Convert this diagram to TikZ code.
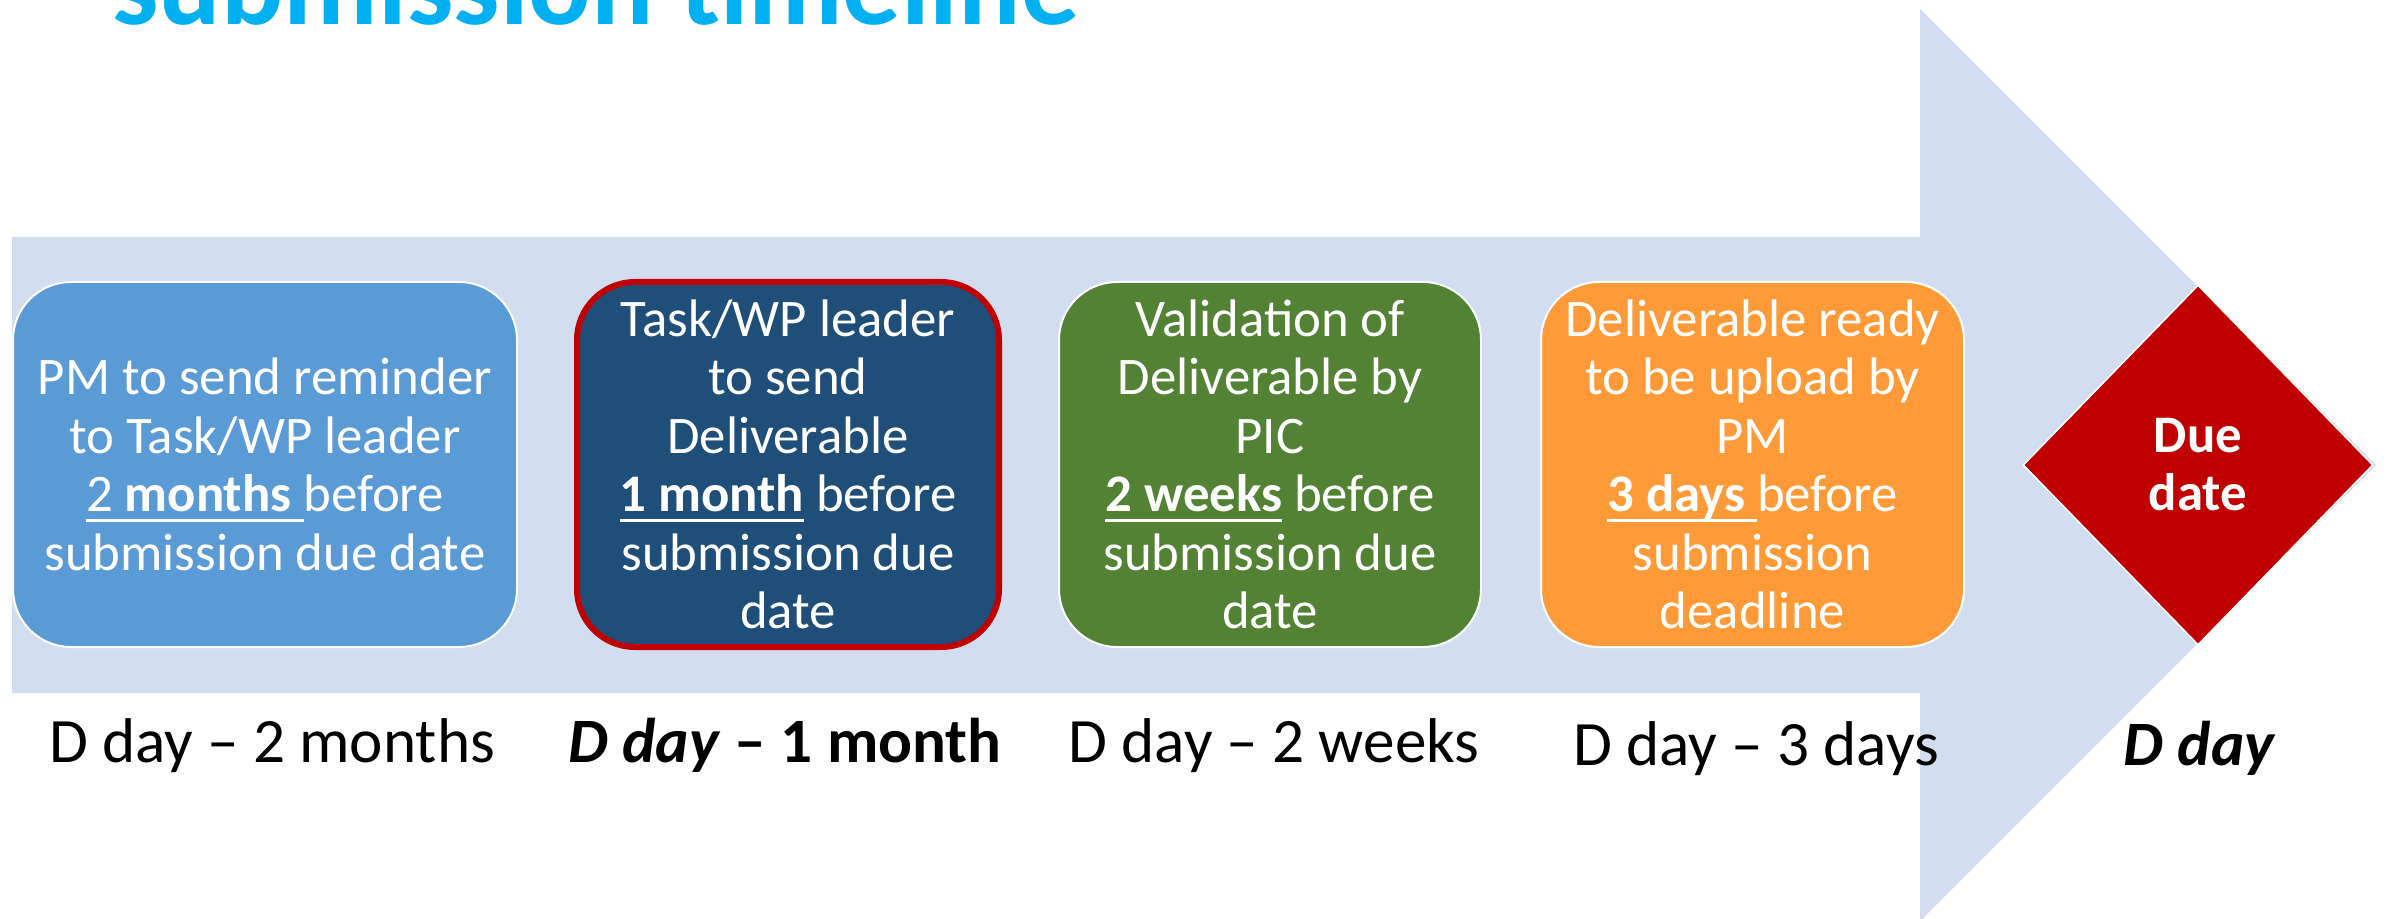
\documentclass[tikz,border=0pt]{standalone}
\usepackage{fontspec}
\setmainfont{Carlito}
\usetikzlibrary{shapes.geometric}
\definecolor{arrowbg}{HTML}{D2DEEF}
\definecolor{boxA}{HTML}{5B9BD5}
\definecolor{boxB}{HTML}{1F4E79}
\definecolor{boxC}{HTML}{548235}
\definecolor{boxD}{HTML}{FF9A38}
\definecolor{duered}{HTML}{C00000}
\definecolor{titlecyan}{HTML}{00B0F0}
\newcommand\ulbox[1]{\setbox0\hbox{#1}\rlap{\rule[-5.2pt]{\wd0}{1.8pt}}\box0}
\tikzset{
  stage/.style={rectangle, rounded corners=29pt, draw=white, line width=1pt,
    text=white, align=center, inner sep=0pt, minimum height=182.5pt,
    font=\fontsize{26.4}{29.25}\selectfont},
  daylabel/.style={anchor=base, inner sep=0pt, text=black,
    font=\fontsize{31.6}{38}\selectfont},
}
\begin{document}
\begin{tikzpicture}[x=0.5pt,y=-0.5pt]
\useasboundingbox (0,0) rectangle (2392,919);
\clip (0,0) rectangle (2392,919);
\fill[white] (0,0) rectangle (2392,919);
% background arrow
\fill[arrowbg] (12,237) -- (1920,237) -- (1920,9) -- (2376,465) -- (1920,921) -- (1920,693) -- (12,693) -- cycle;
% title
\node[anchor=base west, inner sep=0pt, text=titlecyan,
  font=\fontsize{58.2}{62}\selectfont\bfseries] (title) at (112,25) {submission timeline};
% stages
\node[stage, fill=boxA, minimum width=252pt] (s1) at (265,464.5)
  {PM to send reminder\\ to Task/WP leader\\ \ulbox{2 \textbf{months} }before\\ submission due date};
\node[stage, fill=boxB, draw=duered, line width=3pt, minimum width=211pt] (s2) at (788,464.5)
  {Task/WP leader\\ to send\\ Deliverable\\ \ulbox{\textbf{1 month}}\ before\\ submission due\\ date};
\node[stage, fill=boxC, minimum width=211pt] (s3) at (1270,464.5)
  {Validation of\\ Deliverable by\\ PIC\\ \ulbox{\textbf{2 weeks}}\ before\\ submission due\\ date};
\node[stage, fill=boxD, minimum width=211.5pt] (s4) at (1752.5,464.5)
  {Deliverable ready\\ to be upload by\\ PM\\ \ulbox{\textbf{3 days} }before\\ submission\\ deadline};
% due date diamond
\node[diamond, fill=duered, draw=white, line width=0.75pt, minimum width=175pt,
  minimum height=180pt, inner sep=0pt, text=white, align=center,
  font=\fontsize{26.4}{29}\selectfont\bfseries] (due) at (2198,465) {Due\\date};
% day labels
\node[daylabel] (l1) at (272,762) {D day – 2 months};
\node[daylabel] (l2) at (785,762) {\textbf{\textit{D day} – 1 month}};
\node[daylabel] (l3) at (1274,762) {D day – 2 weeks};
\node[daylabel] (l4) at (1756,765) {D day – 3 days};
\node[daylabel] (l5) at (2200,765) {\textbf{\textit{D day}}};
\end{tikzpicture}
\end{document}
